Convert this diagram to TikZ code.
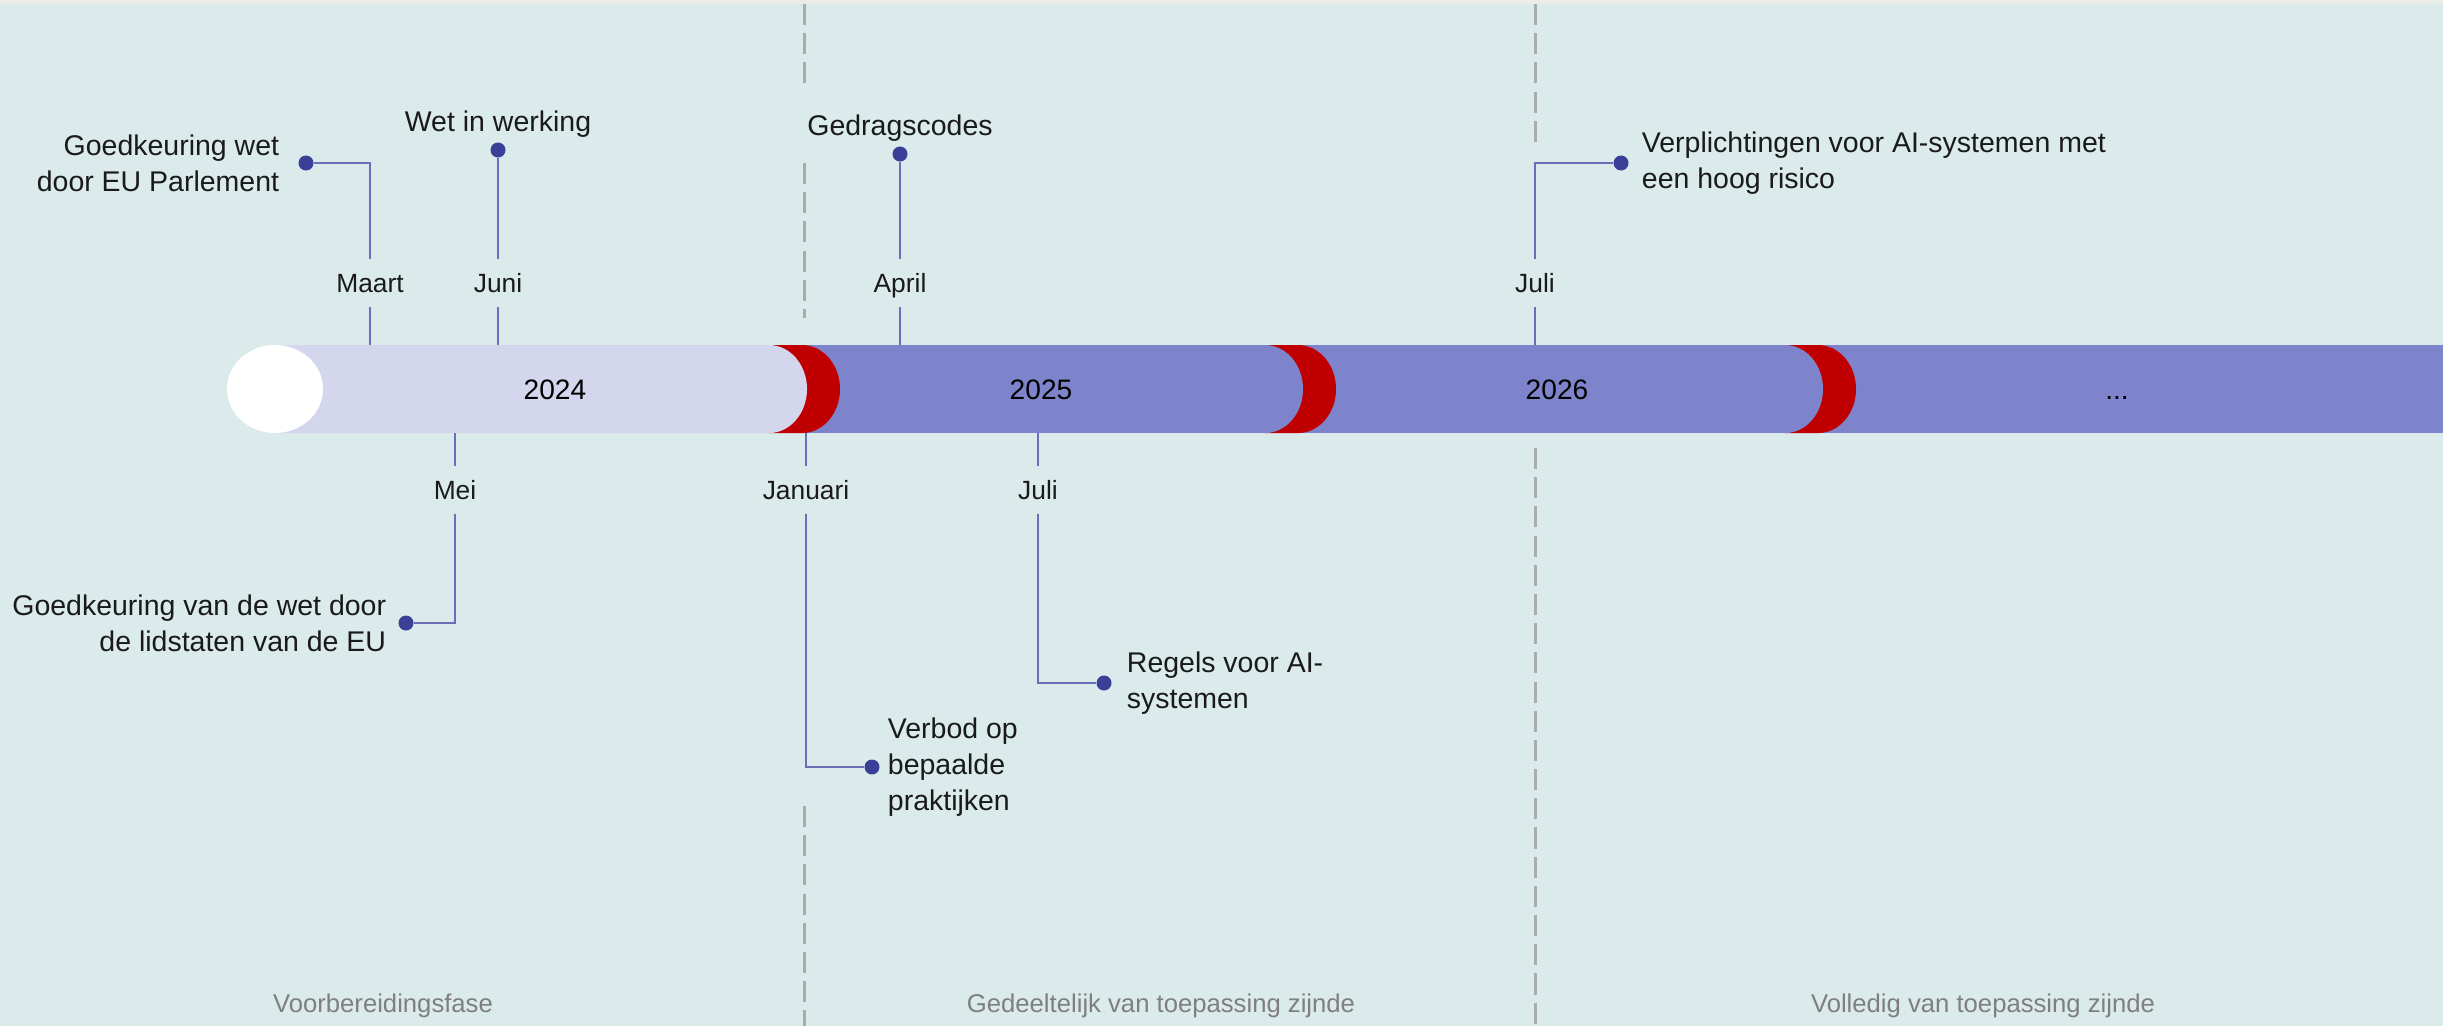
\documentclass[tikz,border=0pt]{standalone}
\usepackage{fontspec}
\setmainfont{Liberation Sans}
\usepackage{tikz}
\usetikzlibrary{positioning}
\definecolor{bgteal}{HTML}{DBEAEA}
\definecolor{topstrip}{HTML}{ECECE6}
\definecolor{barlight}{HTML}{D3D6EC}
\definecolor{bardark}{HTML}{7E84CB}
\definecolor{barred}{HTML}{C00000}
\definecolor{dotblue}{HTML}{3A3F98}
\definecolor{linkblue}{HTML}{6A70B8}
\definecolor{dashgray}{HTML}{ABABAB}
\definecolor{phasegray}{HTML}{7F7F7F}
\definecolor{inktext}{HTML}{1A1A1A}
\tikzstyle{Link} = [
%Thin connector from month to event:
draw=linkblue, line width=0.6pt
]

\begin{document}
\begin{tikzpicture}[x=0.01cm, y=0.01cm,
			month/.style = {font=\fontsize{7.5}{9}\selectfont, text=inktext, inner sep=0pt, text height=5.4pt, text depth=0pt, minimum height=0.46cm},
			event/.style = {font=\fontsize{8.1}{10.2}\selectfont, text=inktext, inner sep=0pt},
			dot/.style = {circle, fill=dotblue, inner sep=0pt, minimum size=0.15cm},
			year/.style = {font=\fontsize{8}{10}\selectfont, text=black, text height=5.8pt, text depth=0pt},
			phase/.style = {font=\fontsize{7.3}{9}\selectfont, text=phasegray},
			divider/.style = {draw=dashgray, line width=0.85pt, dash pattern=on 6pt off 2.3pt},
		]
		\useasboundingbox (0,0) rectangle (2443,1026);

		% background
		\fill[bgteal] (0,0) rectangle (2443,1026);
		\fill[topstrip] (0,1022) rectangle (2443,1026);

		% phase dividers
		\draw[divider] (804,1022) -- (804,941);
		\draw[divider] (804,863) -- (804,708);
		\draw[divider] (804,220) -- (804,0);
		\draw[divider] (1535,1022) -- (1535,884);
		\draw[divider] (1535,578) -- (1535,0);

		% the bar
		\fill[bardark] (802,593) rectangle (2443,681);
		\fill[barred] (769,681) -- (802,681) arc[start angle=90, end angle=-90, x radius=0.38cm, y radius=0.44cm] -- (769,593) -- cycle;
		\fill[barlight] (275,681) -- (769,681) arc[start angle=90, end angle=-90, x radius=0.38cm, y radius=0.44cm] -- (275,593) -- cycle;
		\foreach \xe in {1265,1785}{
			\fill[barred] (\xe,681) -- ({\xe+33},681) arc[start angle=90, end angle=-90, x radius=0.38cm, y radius=0.44cm] -- (\xe,593) -- cycle;
			\fill[bardark] (\xe,681) arc[start angle=90, end angle=-90, x radius=0.38cm, y radius=0.44cm] -- cycle;
		}
		\fill[white] (275,637) ellipse[x radius=0.48cm, y radius=0.44cm];

		\node[year] (y2024) at (555,637) {2024};
		\node[year] (y2025) at (1041,637) {2025};
		\node[year] (y2026) at (1557,637) {2026};
		\node[year] (yLater) at (2117,637) {...};

		% above the bar
		\node[month] (mMaart) at (370,743) {Maart};
		\coordinate (tMaart) at (370,681);
		\node[dot] (dMaart) at (306,863) {};
		\node[event, align=right, left=0.18cm of dMaart] (eMaart) {Goedkeuring wet\\door EU Parlement};
		\draw[Link] (tMaart) -- (mMaart);
		\draw[Link] (mMaart) |- (dMaart);

		\node[month] (mJuni) at (498,743) {Juni};
		\coordinate (tJuni) at (498,681);
		\node[dot] (dJuni) at (498,876) {};
		\node[event, above=0.04cm of dJuni] (eJuni) {Wet in werking};
		\draw[Link] (tJuni) -- (mJuni);
		\draw[Link] (mJuni) -- (dJuni);

		\node[month] (mApril) at (900,743) {April};
		\coordinate (tApril) at (900,681);
		\node[dot] (dApril) at (900,872) {};
		\node[event, above=0.04cm of dApril] (eApril) {Gedragscodes};
		\draw[Link] (tApril) -- (mApril);
		\draw[Link] (mApril) -- (dApril);

		\node[month] (mJuliB) at (1535,743) {Juli};
		\coordinate (tJuliB) at (1535,681);
		\node[dot] (dJuliB) at (1621,863) {};
		\node[event, align=left, right=0.12cm of dJuliB] (eJuliB) {Verplichtingen voor AI-systemen met\\een hoog risico};
		\draw[Link] (tJuliB) -- (mJuliB);
		\draw[Link] (mJuliB) |- (dJuliB);

		% below the bar
		\node[month] (mMei) at (455,536) {Mei};
		\coordinate (tMei) at (455,593);
		\node[dot] (dMei) at (406,403) {};
		\node[event, align=right, left=0.11cm of dMei] (eMei) {Goedkeuring van de wet door\\de lidstaten van de EU};
		\draw[Link] (tMei) -- (mMei);
		\draw[Link] (mMei) |- (dMei);

		\node[month] (mJanuari) at (806,536) {Januari};
		\coordinate (tJanuari) at (806,593);
		\node[dot] (dJanuari) at (872,259) {};
		\node[event, align=left, right=0.07cm of dJanuari] (eJanuari) {Verbod op\\bepaalde\\praktijken};
		\draw[Link] (tJanuari) -- (mJanuari);
		\draw[Link] (mJanuari) |- (dJanuari);

		\node[month] (mJuliA) at (1038,536) {Juli};
		\coordinate (tJuliA) at (1038,593);
		\node[dot] (dJuliA) at (1104,343) {};
		\node[event, align=left, right=0.14cm of dJuliA] (eJuliA) {Regels voor AI-\\systemen};
		\draw[Link] (tJuliA) -- (mJuliA);
		\draw[Link] (mJuliA) |- (dJuliA);

		% phases
		\node[phase] (pPrep) at (383,20) {Voorbereidingsfase};
		\node[phase] (pPart) at (1161,20) {Gedeeltelijk van toepassing zijnde};
		\node[phase] (pFull) at (1983,20) {Volledig van toepassing zijnde};
	\end{tikzpicture}
\end{document}
